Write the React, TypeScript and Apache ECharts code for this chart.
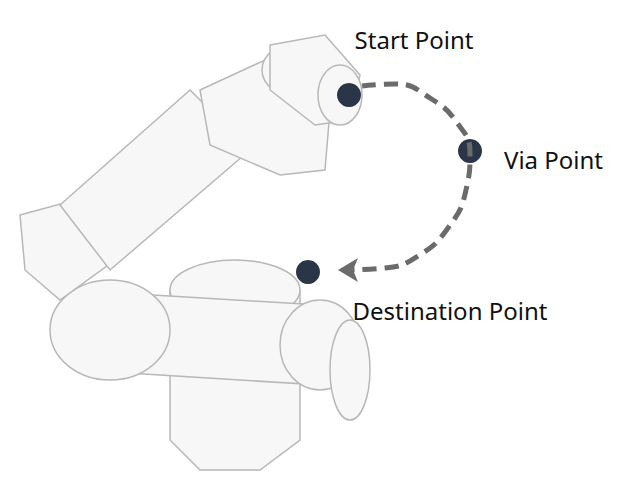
import React, { useEffect, useRef } from 'react'
import * as echarts from 'echarts'

const pointNames = ['Start Point', 'Via Point', 'Destination Point']
const pointX = [349, 470, 308]
const pointY = [95, 151, 272]
const labelPos = ['top', 'right', 'bottom']

// dashed path
const pathX = [362, 395, 430, 458, 470, 466, 448, 418, 385, 345]
const pathY = [86, 84, 98, 124, 153, 190, 228, 256, 268, 270]

const armStroke = '#b8b8b8'
const armFill = '#f7f7f7'

function App() {
  const chartRef = useRef(null)

  useEffect(() => {
    const chart = echarts.init(chartRef.current, null, { renderer: 'svg' })
    const part = (points: number[][]) => ({
      type: 'polygon',
      shape: { points },
      style: { fill: armFill, stroke: armStroke, lineWidth: 1.5 },
      z: -1,
    })
    const oval = (cx: number, cy: number, rx: number, ry: number) => ({
      type: 'ellipse',
      shape: { cx, cy, rx, ry },
      style: { fill: armFill, stroke: armStroke, lineWidth: 1.5 },
      z: -1,
    })
    chart.setOption({
      animation: false,
      backgroundColor: '#ffffff',
      grid: { left: 0, right: 0, top: 0, bottom: 0 },
      xAxis: { type: 'value', min: 0, max: 637, show: false },
      yAxis: { type: 'value', min: 0, max: 489, inverse: true, show: false },
      graphic: [
        // base
        part([[170, 290], [300, 290], [300, 440], [260, 470], [200, 470], [170, 440]]),
        oval(235, 290, 65, 30),
        // lower arm
        part([[70, 290], [320, 305], [320, 385], [80, 370]]),
        oval(320, 345, 40, 45),
        oval(350, 370, 20, 50),
        oval(110, 330, 60, 50),
        // elbow
        part([[20, 215], [75, 200], [115, 260], [60, 300], [25, 270]]),
        // upper arm
        part([[60, 205], [190, 90], [250, 150], [110, 270]]),
        // wrist
        part([[200, 90], [265, 60], [330, 110], [325, 170], [280, 175], [210, 145]]),
        oval(300, 70, 38, 28),
        part([[270, 45], [325, 35], [360, 75], [350, 120], [315, 125], [270, 90]]),
        oval(340, 95, 22, 30),
      ],
      series: [
        {
          type: 'line',
          smooth: true,
          symbol: 'none',
          data: pathX.map((x, i) => [x, pathY[i]]),
          lineStyle: { color: '#6b6b6b', width: 5, type: [14, 8] },
        },
        {
          type: 'scatter',
          symbol: 'arrow',
          symbolSize: [18, 20],
          symbolRotate: 90,
          data: [[338, 270]],
          itemStyle: { color: '#6b6b6b', opacity: 1 },
        },
        {
          type: 'scatter',
          symbolSize: 24,
          itemStyle: { color: '#2b3548', opacity: 1 },
          data: pointNames.map((n, i) => ({
            value: [pointX[i], pointY[i]],
            label: {
              show: true,
              formatter: n,
              position: labelPos[i],
              distance: i === 0 ? 32 : i === 1 ? 22 : 14,
              offset: i === 0 ? [65, 0] : i === 2 ? [142, 0] : [0, 8],
              color: '#111',
              fontSize: 24,
              fontFamily: 'Noto Sans',
            },
          })),
        },
      ],
    })
    return () => chart.dispose()
  }, [])

  return (
    <div
      ref={chartRef}
      style={{ position: 'absolute', left: 0, top: 0, width: '637px', height: '489px' }}
    ></div>
  )
}

export default App
